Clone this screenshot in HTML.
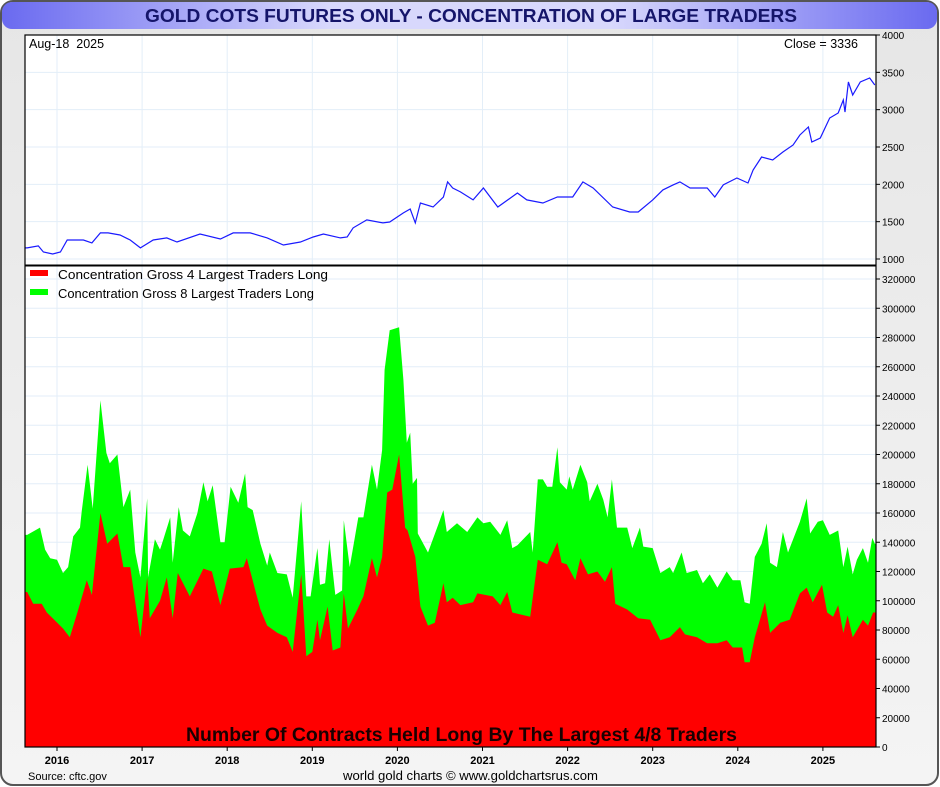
<!DOCTYPE html>
<html><head><meta charset="utf-8"><style>
html,body{margin:0;padding:0;width:940px;height:787px;overflow:hidden;background:#fff;font-family:"Liberation Sans",sans-serif}
</style></head><body>
<svg id="chart" width="940" height="787" xmlns="http://www.w3.org/2000/svg">
<defs>
<linearGradient id="bg" x1="0" y1="0" x2="0" y2="1"><stop offset="0" stop-color="#e6e6e6"/><stop offset="1" stop-color="#f4f4f4"/></linearGradient>
<linearGradient id="tb" x1="0" y1="0" x2="1" y2="0"><stop offset="0" stop-color="#6a6af0"/><stop offset="0.35" stop-color="#d8d8fc"/><stop offset="0.65" stop-color="#d8d8fc"/><stop offset="1" stop-color="#6a6af0"/></linearGradient>
</defs>
<rect x="1" y="1" width="937" height="784" rx="12" fill="url(#bg)" stroke="#555" stroke-width="2"/>
<rect x="2" y="2" width="935" height="27" rx="10" fill="url(#tb)"/>
<text x="145" y="22" textLength="652" lengthAdjust="spacingAndGlyphs" font-size="18" font-weight="bold" fill="#15156a">GOLD COTS FUTURES ONLY - CONCENTRATION OF LARGE TRADERS</text>
<rect x="25" y="35" width="851" height="712" fill="#fff"/>
<g id="grid"></g>
<g id="series"></g>
<rect x="25" y="35" width="851" height="712" fill="none" stroke="#000" stroke-width="1.2"/>
<line x1="25" y1="265.5" x2="876" y2="265.5" stroke="#000" stroke-width="2"/>
<g id="axes" font-size="11" fill="#000"></g>
<text x="29" y="48" font-size="12.5" xml:space="preserve">Aug-18  2025</text>
<text x="858" y="48" font-size="12.5" text-anchor="end">Close = 3336</text>
<rect x="30" y="270" width="18" height="6" fill="#ff0000"/>
<text x="58" y="279" font-size="12.5" textLength="270" lengthAdjust="spacingAndGlyphs">Concentration Gross 4 Largest Traders Long</text>
<rect x="30" y="289" width="18" height="6" fill="#00ff00"/>
<text x="58" y="298" font-size="12.5" textLength="256" lengthAdjust="spacingAndGlyphs">Concentration Gross 8 Largest Traders Long</text>
<text x="186" y="741" textLength="551" lengthAdjust="spacingAndGlyphs" font-size="19" font-weight="bold" fill="#1a0000">Number Of Contracts Held Long By The Largest 4/8 Traders</text>
<text x="28" y="780" font-size="11">Source: cftc.gov</text>
<text x="343" y="780" textLength="255" lengthAdjust="spacingAndGlyphs" font-size="13">world gold charts © www.goldchartsrus.com</text>
</svg>
<script>
const goldDates=[2015.65,2015.78,2015.84,2015.95,2016.04,2016.12,2016.31,2016.41,2016.51,2016.60,2016.74,2016.86,2016.98,2017.13,2017.29,2017.41,2017.68,2017.92,2018.07,2018.27,2018.47,2018.66,2018.86,2019.01,2019.13,2019.33,2019.41,2019.48,2019.64,2019.83,2019.91,2020.07,2020.15,2020.21,2020.27,2020.42,2020.54,2020.59,2020.65,2020.74,2020.89,2021.01,2021.18,2021.41,2021.52,2021.71,2021.88,2022.06,2022.18,2022.30,2022.53,2022.73,2022.83,2023.00,2023.12,2023.24,2023.32,2023.44,2023.64,2023.73,2023.83,2023.99,2024.12,2024.18,2024.28,2024.41,2024.53,2024.65,2024.73,2024.83,2024.87,2024.97,2025.08,2025.18,2025.24,2025.26,2025.30,2025.35,2025.44,2025.55,2025.61];
const goldPrices=[1148,1175,1094,1067,1094,1255,1255,1215,1349,1349,1322,1255,1148,1255,1282,1228,1335,1268,1349,1349,1282,1188,1228,1295,1335,1282,1295,1416,1523,1483,1496,1617,1670,1483,1750,1697,1831,2032,1951,1898,1791,1951,1697,1884,1791,1750,1831,1831,2032,1951,1697,1630,1630,1791,1925,1992,2032,1951,1951,1831,1992,2085,2018,2192,2366,2326,2433,2527,2661,2768,2567,2621,2889,2956,3130,2969,3371,3197,3371,3424,3330];
const top8Dates=[2015.65,2015.80,2015.86,2015.92,2016.00,2016.07,2016.13,2016.19,2016.27,2016.29,2016.36,2016.42,2016.51,2016.58,2016.62,2016.71,2016.78,2016.86,2016.92,2016.98,2017.06,2017.07,2017.15,2017.21,2017.25,2017.33,2017.36,2017.43,2017.48,2017.56,2017.65,2017.72,2017.77,2017.83,2017.92,2017.97,2018.04,2018.13,2018.21,2018.24,2018.30,2018.39,2018.47,2018.50,2018.59,2018.70,2018.77,2018.87,2018.93,2018.98,2019.06,2019.09,2019.15,2019.20,2019.27,2019.35,2019.37,2019.44,2019.54,2019.60,2019.70,2019.76,2019.82,2019.85,2019.91,2020.02,2020.07,2020.11,2020.15,2020.18,2020.23,2020.24,2020.36,2020.48,2020.54,2020.58,2020.70,2020.82,2020.94,2021.01,2021.09,2021.21,2021.29,2021.35,2021.41,2021.56,2021.59,2021.65,2021.71,2021.76,2021.82,2021.88,2021.91,2021.99,2022.02,2022.06,2022.15,2022.23,2022.26,2022.35,2022.42,2022.47,2022.52,2022.58,2022.70,2022.76,2022.85,2022.89,2023.00,2023.09,2023.20,2023.24,2023.34,2023.40,2023.52,2023.59,2023.67,2023.76,2023.87,2023.94,2024.03,2024.08,2024.14,2024.20,2024.28,2024.34,2024.38,2024.46,2024.53,2024.59,2024.73,2024.81,2024.85,2024.94,2025.00,2025.08,2025.18,2025.24,2025.29,2025.35,2025.40,2025.47,2025.53,2025.58,2025.61];
const top8Values=[145,150,135,129,128,119,123,144,150,161,193,163,237,201,194,200,164,176,133,116,170,116,142,135,142,157,126,164,148,144,160,181,168,179,140,140,178,167,187,164,162,139,124,133,119,118,102,168,103,103,136,111,112,142,104,107,155,123,157,157,193,176,203,258,285,287,251,208,215,180,184,146,133,152,162,147,153,147,157,153,154,145,155,136,138,147,133,183,183,178,178,205,181,176,185,176,193,181,168,180,169,157,183,150,150,136,150,137,136,119,123,119,133,119,121,112,118,109,120,114,114,99,98,130,139,153,126,123,147,133,154,170,146,154,155,145,148,123,137,118,128,136,126,143,139];
const top4Dates=[2015.65,2015.72,2015.82,2015.88,2015.95,2016.07,2016.15,2016.24,2016.35,2016.41,2016.51,2016.59,2016.71,2016.78,2016.86,2016.98,2017.06,2017.09,2017.21,2017.29,2017.36,2017.42,2017.56,2017.72,2017.82,2017.92,2018.03,2018.19,2018.23,2018.29,2018.39,2018.47,2018.59,2018.70,2018.77,2018.87,2018.93,2019.00,2019.06,2019.09,2019.18,2019.24,2019.33,2019.37,2019.42,2019.53,2019.60,2019.70,2019.76,2019.82,2019.88,2019.94,2020.02,2020.09,2020.12,2020.21,2020.27,2020.36,2020.44,2020.54,2020.58,2020.65,2020.74,2020.89,2020.94,2021.12,2021.21,2021.29,2021.35,2021.56,2021.65,2021.76,2021.88,2021.93,2021.99,2022.09,2022.15,2022.24,2022.35,2022.44,2022.52,2022.56,2022.70,2022.83,2022.97,2023.09,2023.20,2023.32,2023.38,2023.52,2023.64,2023.76,2023.87,2023.94,2024.05,2024.08,2024.14,2024.20,2024.32,2024.38,2024.50,2024.61,2024.73,2024.81,2024.88,2024.99,2025.05,2025.12,2025.18,2025.24,2025.29,2025.35,2025.47,2025.53,2025.59,2025.61];
const top4Values=[106,98,98,92,88,81,75,92,114,104,160,139,146,123,123,75,116,88,100,116,88,119,103,122,120,97,122,123,129,116,94,83,78,75,65,118,62,65,87,73,96,66,68,105,81,94,103,129,116,130,174,176,200,150,148,130,96,83,85,112,99,102,97,99,105,103,97,106,92,89,128,125,140,126,125,114,129,118,120,113,123,98,94,88,87,73,75,82,77,75,71,71,73,68,68,58,58,75,99,78,85,87,105,109,99,111,92,89,97,78,90,75,87,83,92,92];
const goldTicks=[1000,1500,2000,2500,3000,3500,4000];
const cotTicks=[0,20000,40000,60000,80000,100000,120000,140000,160000,180000,200000,220000,240000,260000,280000,300000,320000];
const yearLabels=[2016,2017,2018,2019,2020,2021,2022,2023,2024,2025];

const NS='http://www.w3.org/2000/svg';
const X0=25,X1=876,PXY=85.1;
function xAt(t){return 57+(t-2016)*PXY;}
function yGold(p){return 35+(4000-p)*224/3000;}
function yCot(v){return 747-v*468/320000;}
function mk(tag,attrs,parent){const e=document.createElementNS(NS,tag);for(const k in attrs)e.setAttribute(k,attrs[k]);parent.appendChild(e);return e;}
const grid=document.getElementById('grid'),series=document.getElementById('series'),axes=document.getElementById('axes');

yearLabels.forEach(y=>{
  const x=xAt(y);
  const g=mk('line',{x1:x,x2:x,y1:35,y2:747,stroke:'#e3eef8','stroke-width':1},grid);
  
  
  mk('line',{x1:x,x2:x,y1:747,y2:751,stroke:'#000'},axes);
  const t=mk('text',{x:x,y:764,'text-anchor':'middle','font-weight':'bold','font-size':11},axes);
  t.textContent=y;
  
  
});
goldTicks.forEach(v=>{
  const y=yGold(v);
  if(v<4000){const g=mk('line',{x1:X0,x2:X1,y1:y,y2:y,stroke:'#e3eef8'},grid);
  
  }
  mk('line',{x1:X1,x2:X1+4,y1:y,y2:y,stroke:'#000'},axes);
  const t=mk('text',{x:882,y:y+4,'font-size':10},axes);
  t.textContent=v;
  
  
});
cotTicks.forEach(v=>{
  const y=yCot(v);
  if(v>0){const g=mk('line',{x1:X0,x2:X1,y1:y,y2:y,stroke:'#e3eef8'},grid);
  
  }
  mk('line',{x1:X1,x2:X1+4,y1:y,y2:y,stroke:'#000'},axes);
  const t=mk('text',{x:882,y:y+4,'font-size':10},axes);
  t.textContent=v;
  
  
});
function area(dates,vals,color,name){
  let d='M'+X0+',747 L'+X0+','+yCot(vals[0]*1000).toFixed(1);
  dates.forEach((t,i)=>{d+=' L'+Math.max(X0,Math.min(X1,xAt(t))).toFixed(1)+','+yCot(vals[i]*1000).toFixed(1);});
  d+=' L'+X1+','+yCot(vals[vals.length-1]*1000).toFixed(1)+' L'+X1+',747 Z';
  const p=mk('path',{d:d,fill:color},series);
  
  
}
area(top8Dates,top8Values,'#00ff00','top8-area');
area(top4Dates,top4Values,'#ff0000','top4-area');
let gd='M'+X0+','+yGold(goldPrices[0]).toFixed(1);
goldDates.forEach((t,i)=>{gd+=' L'+xAt(t).toFixed(1)+','+yGold(goldPrices[i]).toFixed(1);});
const gl=mk('path',{d:gd,fill:'none',stroke:'#1a1aff','stroke-width':1.2},series);


</script>
</body></html>
